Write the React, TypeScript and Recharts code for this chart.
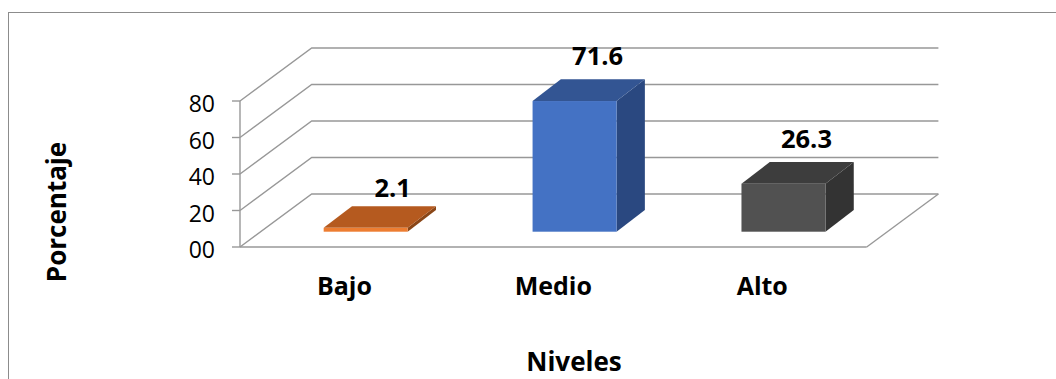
import { Bar, BarChart, CartesianGrid, LabelList, XAxis, YAxis } from "recharts";

const NIVELES = ["Bajo", "Medio", "Alto"];
const PORCENTAJES = [2.1, 71.6, 26.3];
const Y_TICKS = [0, 20, 40, 60, 80];

const FRONT_COLORS = ["#ed7d31", "#4472c4", "#515151"];
const TOP_COLORS = ["#b55a1f", "#335593", "#3d3d3d"];
const SIDE_COLORS = ["#8a4617", "#2a4880", "#333333"];

const FONT = "'Open Sans', sans-serif";
const GRID = "#989898";

// wall depth of the 3D box, and how far the bars sit into it
const WALL_DX = 71.7;
const WALL_DY = 53;
const BAR_DX = 28.3;
const BAR_DY = 21.7;
const BAR_SHIFT_X = 21;
const BAR_SHIFT_Y = 15.3;

const data = NIVELES.map((nivel, i) => ({ nivel, valor: PORCENTAJES[i] }));

// one gridline: diagonal on the side wall, then along the back wall
function WallLine(props: any) {
  const { x1, x2, y1, index } = props;
  const isFloor = index === 0 || y1 > 240;
  return (
    <g key={`wall-${y1}`} fill="none" stroke={GRID} strokeWidth={1.4}>
      <path
        d={`M${x1} ${y1}L${x1 + WALL_DX} ${y1 - WALL_DY}L${x2 + WALL_DX} ${y1 - WALL_DY}`}
      />
      {isFloor && <path d={`M${x2} ${y1}L${x2 + WALL_DX} ${y1 - WALL_DY}`} />}
    </g>
  );
}

function Box3D(props: any) {
  const { x, y, width, height, index } = props;
  const left = x + BAR_SHIFT_X;
  const right = left + width;
  const top = y - BAR_SHIFT_Y;
  const bottom = y + height - BAR_SHIFT_Y;
  return (
    <g>
      <path
        fill={SIDE_COLORS[index]}
        d={`M${right} ${top}L${right + BAR_DX} ${top - BAR_DY}L${right + BAR_DX} ${bottom - BAR_DY}L${right} ${bottom}Z`}
      />
      <path
        fill={TOP_COLORS[index]}
        d={`M${left} ${top}L${left + BAR_DX} ${top - BAR_DY}L${right + BAR_DX} ${top - BAR_DY}L${right} ${top}Z`}
      />
      <rect x={left} y={top} width={width} height={height} fill={FRONT_COLORS[index]} />
    </g>
  );
}

function ValueLabel(props: any) {
  const { x, y, width, value, index } = props;
  // the short bar's label sits a little lower and further right
  const low = index === 0;
  return (
    <text
      x={x + width / 2 + BAR_SHIFT_X + (low ? 27 : 23)}
      y={y - BAR_SHIFT_Y - BAR_DY - (low ? 9 : 14)}
      textAnchor="middle"
      fontFamily={FONT}
      fontWeight={700}
      fontSize={25.5}
      fill="#000"
    >
      {value}
    </text>
  );
}

const axisTitle = { fill: "#000", fontFamily: FONT, fontWeight: 700, fontSize: 26 };

export default function App() {
  return (
    <div style={{ position: "absolute", left: 0, top: 0, width: 1056, height: 379, background: "#fff", overflow: "hidden" }}>
      <div
        style={{
          position: "absolute",
          left: 8,
          top: 12,
          width: 1100,
          height: 400,
          border: "1px solid #8c8c8c",
          boxSizing: "border-box",
        }}
      />
      <BarChart
        width={1056}
        height={379}
        data={data}
        margin={{ top: 101, right: 189.3, bottom: 0, left: 40 }}
        barCategoryGap="30%"
        style={{ position: "absolute", left: 0, top: 0 }}
      >
        <CartesianGrid vertical={false} horizontal={WallLine} />
        <XAxis
          dataKey="nivel"
          height={132}
          stroke={GRID}
          strokeWidth={1.4}
          tickLine={false}
          tickMargin={24}
          tick={{ fill: "#000", fontFamily: FONT, fontWeight: 700, fontSize: 25 }}
          label={{
            content: () => (
              <text x={574} y={371} textAnchor="middle" {...axisTitle}>
                Niveles
              </text>
            ),
          }}
        />
        <YAxis
          width={200}
          domain={[0, 80]}
          ticks={Y_TICKS}
          stroke={GRID}
          strokeWidth={1.4}
          tickSize={8}
          tickMargin={17}
          tickFormatter={(v: number) => String(v).padStart(2, "0")}
          tick={{ fill: "#000", fontFamily: FONT, fontSize: 23, dy: 3 }}
          label={{
            content: () => (
              <text x={66} y={212} textAnchor="middle" transform="rotate(-90 66 212)" {...axisTitle}>
                Porcentaje
              </text>
            ),
          }}
        />
        <Bar dataKey="valor" shape={Box3D} isAnimationActive={false}>
          <LabelList dataKey="valor" content={ValueLabel} />
        </Bar>
      </BarChart>
    </div>
  );
}
